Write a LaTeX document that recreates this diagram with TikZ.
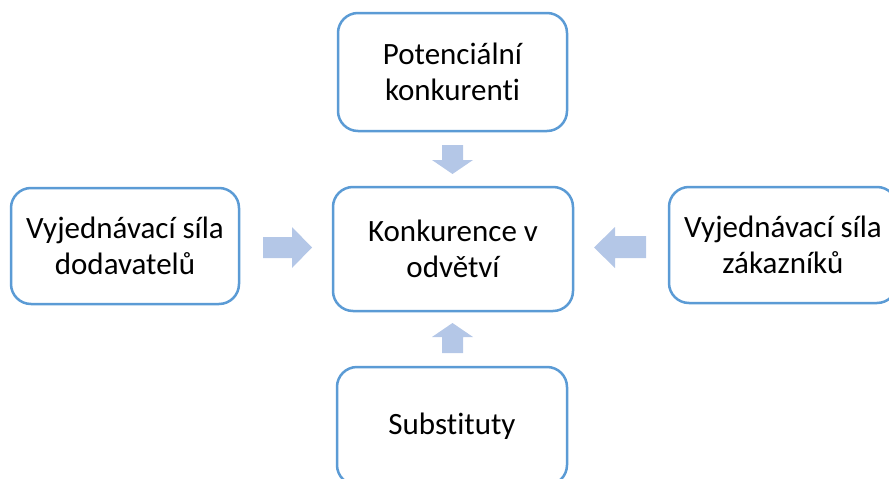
\documentclass[tikz,border=0pt]{standalone}
\usepackage{fontspec}
\setmainfont{Carlito}[RawFeature=-liga]
\definecolor{boxblue}{HTML}{5B9BD5}
\definecolor{arrowblue}{HTML}{B4C7E7}
\tikzset{
  box/.style={draw=boxblue, line width=2.5pt, rounded corners=20pt, fill=white,
    align=center, font=\fontsize{31}{36}\selectfont, inner sep=0pt},
  blockarrow/.style={fill=arrowblue, draw=none}
}
\begin{document}
\begin{tikzpicture}[x=1pt,y=-1pt]
\useasboundingbox (0,0) rectangle (889,479);
\clip (0,0) rectangle (889,479);
\node[box, minimum width=229pt, minimum height=118pt] (top) at (452.5,72) {Potenciální\\konkurenti};
\node[box, minimum width=240pt, minimum height=124pt] (mid) at (453,249) {Konkurence v\\odvětví};
\node[box, minimum width=228pt, minimum height=116pt] (left) at (125,246) {Vyjednávací síla\\dodavatelů};
\node[box, minimum width=228pt, minimum height=116pt] (right) at (783,245) {Vyjednávací síla\\zákazníků};
\node[box, minimum width=230pt, minimum height=118pt] (bottom) at (452,426) {Substituty};
% block arrows
\fill[blockarrow] (442,145) -- (463,145) -- (463,160) -- (473,160) -- (452.5,174) -- (432,160) -- (442,160) -- cycle;
\fill[blockarrow] (263,237) -- (292,237) -- (292,227) -- (312,247.5) -- (292,268) -- (292,258) -- (263,258) -- cycle;
\fill[blockarrow] (646,236) -- (615,236) -- (615,227) -- (594,247.5) -- (615,268) -- (615,258) -- (646,258) -- cycle;
\fill[blockarrow] (442,353) -- (463,353) -- (463,337) -- (473,337) -- (452.5,323) -- (432,337) -- (442,337) -- cycle;
\end{tikzpicture}
\end{document}
